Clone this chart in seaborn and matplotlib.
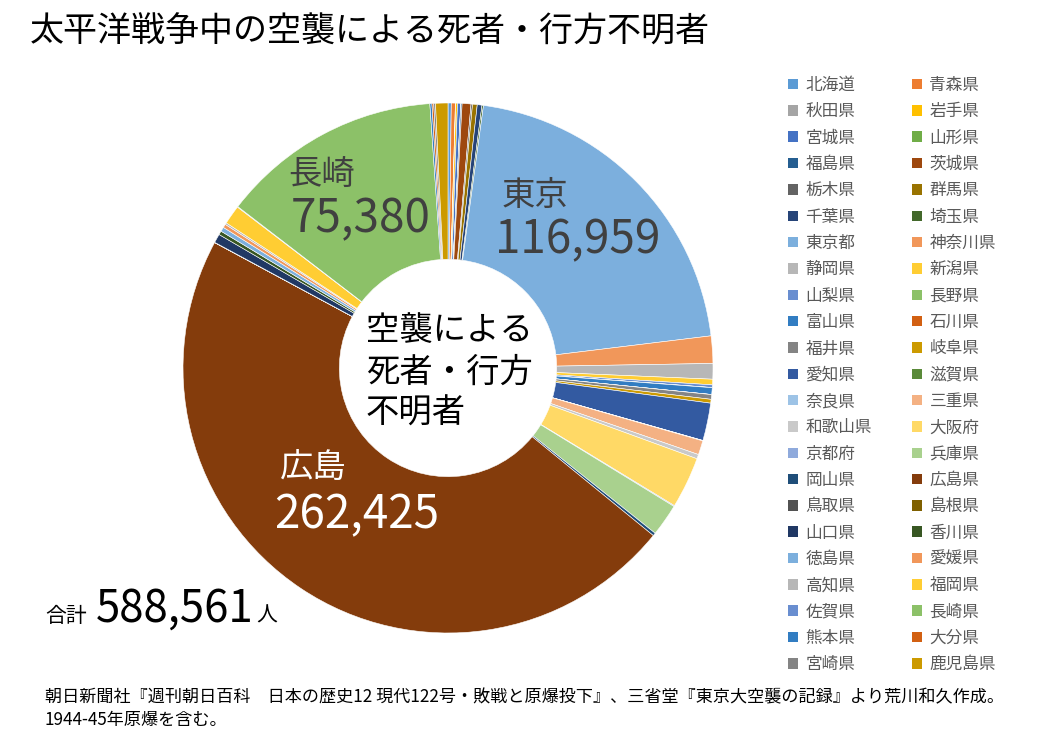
import matplotlib
matplotlib.use('Agg')
import matplotlib.pyplot as plt
from matplotlib.patches import Patch
import seaborn as sns

# data (46 prefectures; big three are the labelled values)
prefs = ['北海道', '青森県', '秋田県', '岩手県', '宮城県', '山形県', '福島県', '茨城県',
         '栃木県', '群馬県', '千葉県', '埼玉県', '東京都', '神奈川県', '静岡県', '新潟県',
         '山梨県', '長野県', '富山県', '石川県', '福井県', '岐阜県', '愛知県', '滋賀県',
         '奈良県', '三重県', '和歌山県', '大阪府', '京都府', '兵庫県', '岡山県', '広島県',
         '鳥取県', '島根県', '山口県', '香川県', '徳島県', '愛媛県', '高知県', '福岡県',
         '佐賀県', '長崎県', '熊本県', '大分県', '宮崎県', '鹿児島県']
deaths = [1100, 1400, 100, 600, 1100, 50, 400, 3000,
          500, 1600, 1600, 500, 116959, 9300, 5300, 1900,
          900, 50, 2300, 30, 1600, 1300, 12800, 50,
          100, 4800, 1500, 17500, 300, 11000, 1000, 262425,
          50, 50, 3000, 1300, 1500, 1200, 600, 6500,
          200, 75380, 700, 600, 600, 4200]
colors = ['#5B9BD5', '#ED7D31', '#A5A5A5', '#FFC000', '#4472C4', '#70AD47',
          '#255E91', '#9E480E', '#636363', '#997300', '#264478', '#43682B',
          '#7CAFDD', '#F1975A', '#B7B7B7', '#FFCD33', '#698ED0', '#8CC168',
          '#327DC2', '#D26012', '#848484', '#CC9A00', '#335AA1', '#5A8A39',
          '#9DC3E6', '#F4B183', '#C9C9C9', '#FFD966', '#8FAADC', '#A9D18E',
          '#1F4E79', '#843C0C', '#525252', '#7F6000', '#203864', '#385723',
          '#7CAFDD', '#F1975A', '#B7B7B7', '#FFCD33', '#698ED0', '#8CC168',
          '#327DC2', '#D26012', '#848484', '#CC9A00']
total_text = '588,561'

sns.set_theme(style='white')
plt.rcParams['font.family'] = ['Noto Sans CJK JP', 'DejaVu Sans']

W, H = 1048, 744
fig = plt.figure(figsize=(W / 100, H / 100), dpi=100)

def fx(px):
    return px / W

def fy(py):
    return 1 - py / H

# pie axes: center (448,368) px, radius 265 px
cx, cy, r = 448, 368, 265
ax = fig.add_axes([fx(cx - r), fy(cy + r), 2 * r / W, 2 * r / H])
ax.pie(deaths, colors=colors, startangle=90, counterclock=False,
       wedgeprops=dict(width=0.59, edgecolor='white', linewidth=0.4))
ax.set_xlim(-1, 1)
ax.set_ylim(-1, 1)
ax.axis('off')

# title
fig.text(fx(30), fy(32), '太平洋戦争中の空襲による死者・行方不明者', fontsize=24.5,
         ha='left', va='center', color='#000000')

# slice labels
dark = '#404040'
num_fs = 33
fig.text(fx(535), fy(195), '東京', fontsize=24, color=dark, ha='center', va='center')
fig.text(fx(578), fy(240), '116,959', fontsize=num_fs, color=dark, ha='center', va='center')
fig.text(fx(322), fy(175), '長崎', fontsize=24, color=dark, ha='center', va='center')
fig.text(fx(361), fy(219), '75,380', fontsize=num_fs, color=dark, ha='center', va='center')
fig.text(fx(313), fy(467), '広島', fontsize=24, color='white', ha='center', va='center')
fig.text(fx(357), fy(515), '262,425', fontsize=num_fs, color='white', ha='center', va='center')

# centre text
for txt, y in [('空襲による', 330), ('死者・行方', 372), ('不明者', 413)]:
    fig.text(fx(366), fy(y), txt, fontsize=24, color='#000000', ha='left', va='center')

# total
fig.text(fx(45), fy(622), '合計', fontsize=15, ha='left', va='baseline', color='#000000')
fig.text(fx(96), fy(622), total_text, fontsize=31.5, ha='left', va='baseline', color='#000000')
fig.text(fx(256), fy(622), '人', fontsize=15, ha='left', va='baseline', color='#000000')

# legend, row-wise order in two columns
handles = [Patch(facecolor=c, edgecolor='none') for c in colors]
order = list(range(0, len(prefs), 2)) + list(range(1, len(prefs), 2))
leg = fig.legend([handles[i] for i in order], [prefs[i] for i in order],
                 ncol=2, loc='upper left', bbox_to_anchor=(fx(788), fy(77)),
                 frameon=False, fontsize=12, handlelength=0.6, handleheight=0.6,
                 handletextpad=0.45, labelspacing=0.56, columnspacing=2.4,
                 borderaxespad=0, borderpad=0)
for t in leg.get_texts():
    t.set_color('#595959')

# source note
fig.text(fx(45), fy(697), '朝日新聞社『週刊朝日百科　日本の歴史12 現代122号・敗戦と原爆投下』、三省堂『東京大空襲の記録』より荒川和久作成。',
         fontsize=12.3, ha='left', va='center', color='#000000')
fig.text(fx(45), fy(720), '1944-45年原爆を含む。', fontsize=12.3, ha='left', va='center', color='#000000')

fig.savefig('out.png', dpi=100, facecolor='white')
